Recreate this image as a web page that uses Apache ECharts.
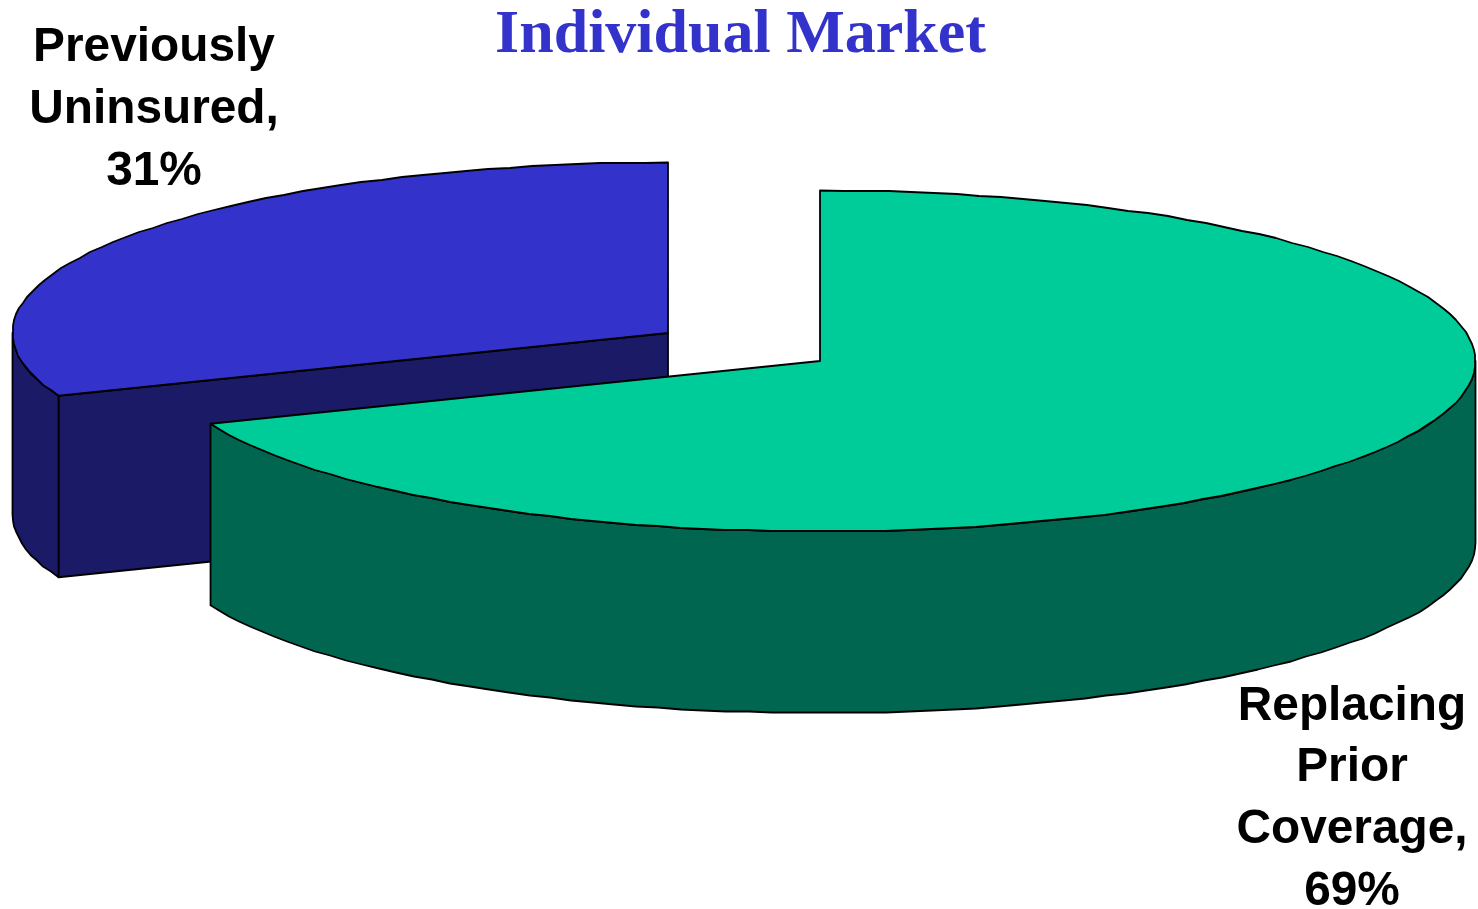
<!DOCTYPE html>
<html>
<head>
<meta charset="utf-8">
<style>html,body{margin:0;padding:0;background:#fff}#c{width:1478px;height:909px}</style>
<script src="https://cdn.jsdelivr.net/npm/echarts@6/dist/echarts.min.js"></script>
</head>
<body>
<div id="c"></div>
<script>
const chartTitle = 'Individual Market';
const categories = ['Previously\nUninsured,', 'Replacing\nPrior\nCoverage,'];
const shareValues = [31, 69];

const topColors = ['#3333CC', '#00CC99'];
const sideColors = ['#1A1A66', '#006650'];
const centers = [[668, 333], [820, 361]];
const labelCenters = [[154, 110], [1352, 799]];
const RX = 655.5, RY = 170.5, DEPTH = 181.5, STEP = 2, SNAP = 1;

const total = shareValues.reduce((a, b) => a + b, 0);
// The large slice starts at twelve o'clock, the small one follows it clockwise.
const startDeg = i => i === 1 ? 0 : shareValues[1] / total * 360;

function pt(c, deg, dy) {
  const r = deg * Math.PI / 180;
  return [c[0] + RX * Math.sin(r), c[1] - RY * Math.cos(r) + (dy || 0)];
}
// Stepped outline, like the coarse vector rim of the original slide graphic.
const snap = v => Math.round(v / SNAP) * SNAP;
function arc(c, a, b, dy) {
  const out = [];
  const n = Math.max(1, Math.round(Math.abs(b - a) / STEP));
  for (let k = 0; k <= n; k++) {
    const p = pt(c, a + (b - a) * k / n, 0);
    const keep = k === 0 || k === n;
    out.push([keep ? p[0] : snap(p[0]), (keep ? p[1] : snap(p[1])) + (dy || 0)]);
  }
  return out;
}
const edge = { stroke: '#000', lineWidth: 1.8, lineJoin: 'round' };

function renderItem(params, api) {
  const i = params.dataIndex;
  const value = api.value(0);
  const c = centers[i];
  const a = startDeg(i), b = a + value / total * 360;
  const kids = [];
  const side = Object.assign({ fill: sideColors[i] }, edge);
  // front-facing cut wall (only when the radial edge faces the viewer)
  if (a > 180 && a < 360) {
    const p = pt(c, a);
    kids.push({ type: 'polygon', shape: { points: [p, c, [c[0], c[1] + DEPTH], [p[0], p[1] + DEPTH]] }, style: side });
  }
  // outer rim, visible between 90 and 270 degrees
  const w0 = Math.max(a, 90), w1 = Math.min(b, 270);
  if (w1 > w0) {
    const top = arc(c, w0, w1, 0);
    const bottom = arc(c, w1, w0, DEPTH);
    kids.push({ type: 'polygon', shape: { points: top.concat(bottom) }, style: side });
  }
  // top face
  kids.push({ type: 'polygon', shape: { points: [c].concat(arc(c, a, b, 0)) },
    style: Object.assign({ fill: topColors[i] }, edge) });
  // label
  kids.push({ type: 'text', z2: 10, style: {
    text: categories[i] + '\n' + value + '%',
    x: labelCenters[i][0], y: labelCenters[i][1],
    align: 'center', verticalAlign: 'middle',
    font: 'bold 47.8px "Liberation Sans", Arial, sans-serif',
    lineHeight: 61.7, fill: '#000'
  } });
  return { type: 'group', children: kids };
}

const chart = echarts.init(document.getElementById('c'), null, { renderer: 'canvas' });
chart.setOption({
  animation: false,
  backgroundColor: '#fff',
  title: {
    text: chartTitle, left: 735.5, top: 0, textAlign: 'center',
    textStyle: { color: '#3333CC', fontFamily: '"Liberation Serif", serif', fontWeight: 'bold', fontSize: 62 }
  },
  series: [{
    type: 'custom',
    coordinateSystem: 'none',
    renderItem,
    encode: { value: 0 },
    data: shareValues.map((v, i) => ({ name: categories[i], value: [v] }))
  }]
});
</script>
</body>
</html>
